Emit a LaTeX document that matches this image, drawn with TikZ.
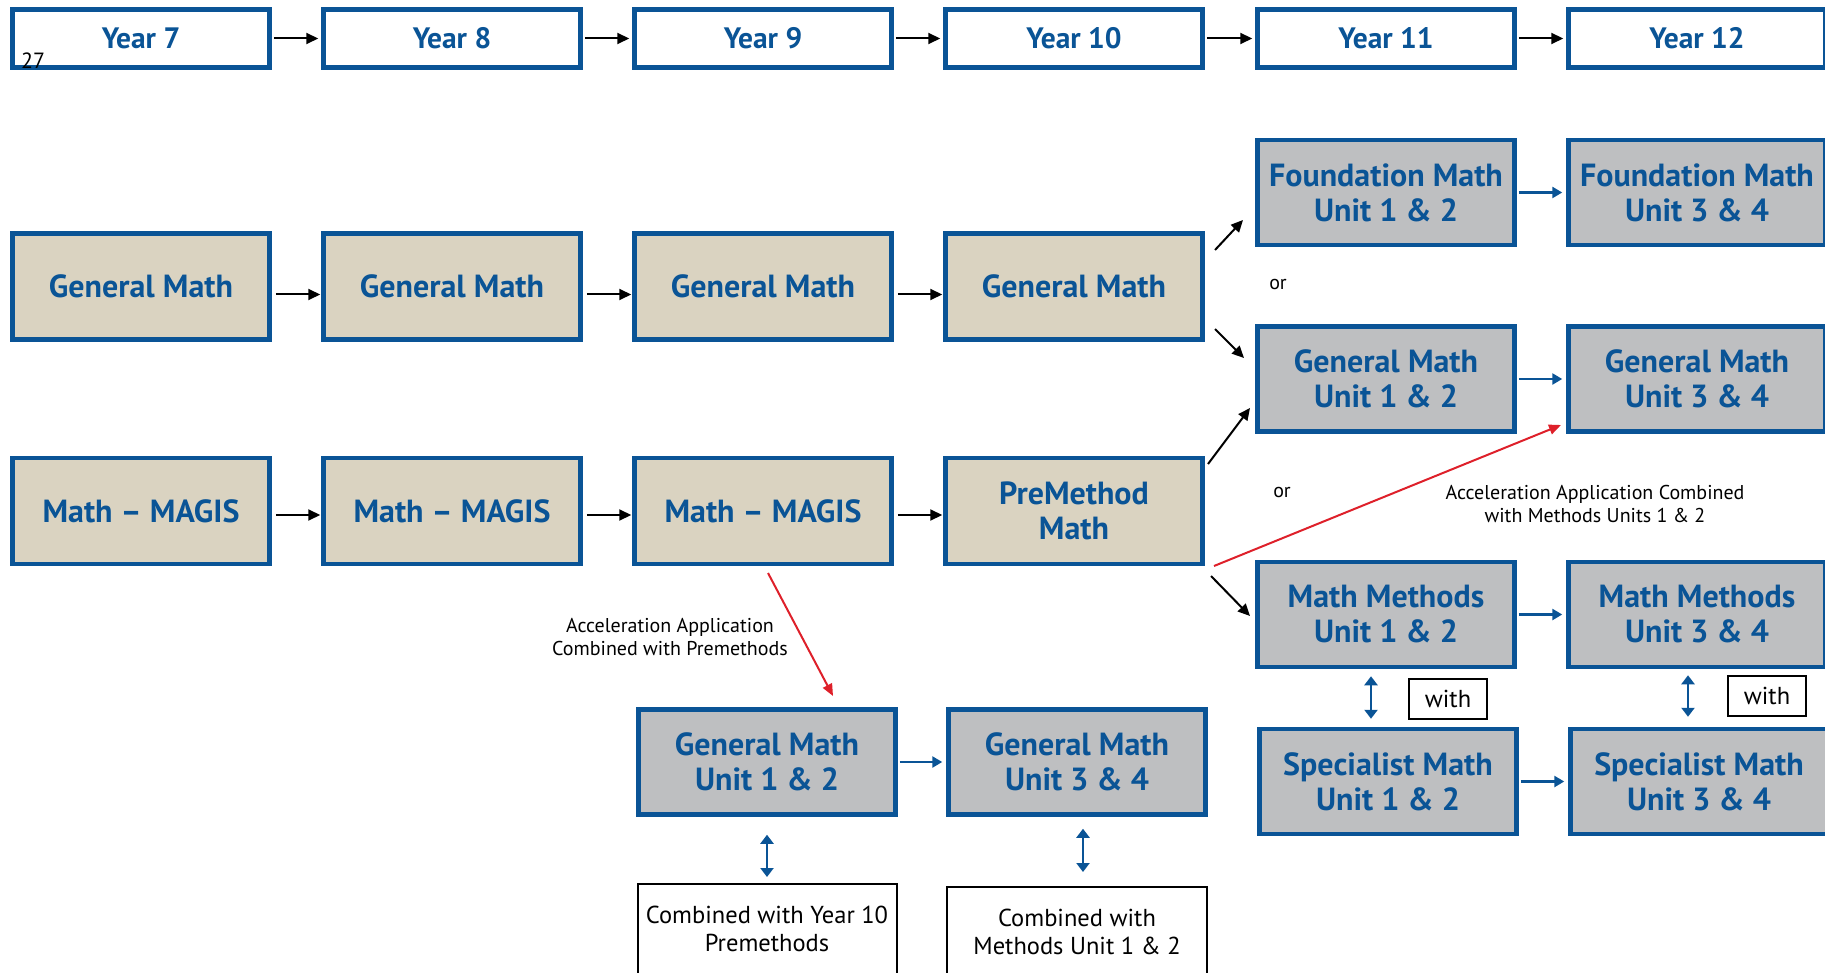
\documentclass[tikz,border=0pt]{standalone}
\usepackage{fontspec}
\setmainfont{PT Sans}
\usetikzlibrary{arrows.meta,calc}
\definecolor{bblue}{RGB}{10,84,150}
\definecolor{boxtan}{RGB}{218,211,193}
\definecolor{boxgray}{RGB}{190,191,193}
\definecolor{ared}{RGB}{222,32,42}
\begin{document}
\begin{tikzpicture}[x=1pt,y=-1pt]
\useasboundingbox (0,0) rectangle (1825,973);
\tikzset{
 base/.style={rectangle, draw=bblue, line width=4.5pt, inner sep=0pt, minimum width=257pt, text=bblue, font=\bfseries\fontsize{32}{35}\selectfont, align=center},
 yearbox/.style={base, fill=white, minimum height=58pt, font=\bfseries\fontsize{29.5}{35}\selectfont},
 tanbox/.style={base, fill=boxtan, minimum height=106pt},
 graybox/.style={base, fill=boxgray, minimum height=105pt},
 wbox/.style={rectangle, draw=black, line width=2pt, fill=white, inner sep=0pt, font=\fontsize{24.5}{28}\selectfont, align=center},
 lbl/.style={font=\fontsize{20}{23}\selectfont, align=center, inner sep=0pt},
 blk/.style={line width=2pt, -{Triangle[length=12pt,width=11pt]}},
 blu/.style={draw=bblue, line width=2.5pt, -{Triangle[length=10pt,width=11pt]}},
 dbl/.style={draw=bblue, line width=2.5pt, {Triangle[length=9pt,width=13pt]}-{Triangle[length=9pt,width=13pt]}},
 redar/.style={draw=ared, line width=2pt, -{Triangle[length=12pt,width=10pt]}},
}
% year row
\node[yearbox] (y7) at (141,38.5) {Year 7};
\node[yearbox] (y8) at (452,38.5) {Year 8};
\node[yearbox] (y9) at (763,38.5) {Year 9};
\node[yearbox] (y10) at (1074,38.5) {Year 10};
\node[yearbox] (y11) at (1386,38.5) {Year 11};
\node[yearbox] (y12) at (1697,38.5) {Year 12};
\node[anchor=base west, inner sep=0pt, font=\fontsize{22}{22}\selectfont] (pg) at (21,69) {27};
% general math row
\node[tanbox] (gm7) at (141,286.5) {General Math};
\node[tanbox] (gm8) at (452,286.5) {General Math};
\node[tanbox] (gm9) at (763,286.5) {General Math};
\node[tanbox] (gm10) at (1074,286.5) {General Math};
% magis row
\node[tanbox] (mg7) at (141,511) {Math -- MAGIS};
\node[tanbox] (mg8) at (452,511) {Math -- MAGIS};
\node[tanbox] (mg9) at (763,511) {Math -- MAGIS};
\node[tanbox] (pm10) at (1074,511) {PreMethod\\Math};
% year 11/12
\node[graybox] (fm11) at (1386,192.5) {Foundation Math\\Unit 1 \& 2};
\node[graybox] (fm12) at (1697,192.5) {Foundation Math\\Unit 3 \& 4};
\node[graybox] (gu11) at (1386,379) {General Math\\Unit 1 \& 2};
\node[graybox] (gu12) at (1697,379) {General Math\\Unit 3 \& 4};
\node[graybox] (mm11) at (1386,614.5) {Math Methods\\Unit 1 \& 2};
\node[graybox] (mm12) at (1697,614.5) {Math Methods\\Unit 3 \& 4};
\node[graybox] (sm11) at (1388,781.5) {Specialist Math\\Unit 1 \& 2};
\node[graybox] (sm12) at (1699,781.5) {Specialist Math\\Unit 3 \& 4};
% accelerated bottom
\node[graybox] (gb9) at (767,762) {General Math\\Unit 1 \& 2};
\node[graybox] (gb10) at (1077,762) {General Math\\Unit 3 \& 4};
\node[wbox, minimum width=259pt, minimum height=90pt] (wb9) at (767,929) {Combined with Year 10\\Premethods};
\node[wbox, minimum width=260pt, minimum height=90pt] (wb10) at (1077,932) {Combined with\\Methods Unit 1 \& 2};
\node[wbox, minimum width=78pt, minimum height=40pt] (w11) at (1448,699) {with};
\node[wbox, minimum width=78pt, minimum height=40pt] (w12) at (1767,695.5) {with};
% labels
\node[lbl] (or1) at (1278,285) {or};
\node[lbl] (or2) at (1282,492) {or};
\node[lbl] (acc1) at (670,637) {Acceleration Application\\Combined with Premethods};
\node[lbl] (acc2) at (1595,504) {Acceleration Application Combined\\with Methods Units 1 \& 2};
% year arrows
\foreach \a/\b in {y7/y8,y8/y9,y9/y10,y10/y11,y11/y12}
  \draw[blk, shorten <=2pt, shorten >=3pt] (\a) -- (\b);
\foreach \a/\b in {gm7/gm8,gm8/gm9,gm9/gm10}
  \draw[blk, shorten <=4pt, shorten >=1pt] ([yshift=-8pt]\a.east) -- ([yshift=-8pt]\b.west);
\foreach \a/\b in {mg7/mg8,mg8/mg9,mg9/pm10}
  \draw[blk, shorten <=4pt, shorten >=1pt] ([yshift=-4pt]\a.east) -- ([yshift=-4pt]\b.west);
% diagonal arrows
\coordinate (d1s) at (1215,250); \coordinate (d1e) at (1243,220);
\coordinate (d2s) at (1215,329); \coordinate (d2e) at (1244,358);
\coordinate (d3s) at (1208,464); \coordinate (d3e) at (1250,408);
\coordinate (d4s) at (1211,576); \coordinate (d4e) at (1250,616);
\draw[blk] (d1s) -- (d1e);
\draw[blk] (d2s) -- (d2e);
\draw[blk] (d3s) -- (d3e);
\draw[blk] (d4s) -- (d4e);
% red arrows
\coordinate (r1s) at (768,573); \coordinate (r1e) at (833,696);
\coordinate (r2s) at (1214,566); \coordinate (r2e) at (1561,425);
\draw[redar] (r1s) -- (r1e);
\draw[redar] (r2s) -- (r2e);
% blue arrows
\foreach \a/\b in {fm11/fm12,gu11/gu12,mm11/mm12,sm11/sm12,gb9/gb10}
  \draw[blu, shorten <=2pt, shorten >=4pt] (\a) -- (\b);
% double arrows
\draw[dbl, shorten <=18pt, shorten >=6pt] (gb9.south) -- (wb9.north);
\draw[dbl, shorten <=12pt, shorten >=14pt] ([xshift=6pt]gb10.south) -- ([xshift=6pt]wb10.north);
\draw[dbl, shorten <=7pt, shorten >=8pt] ([xshift=-15pt]mm11.south) -- ([xshift=-17pt]sm11.north);
\draw[dbl, shorten <=6pt, shorten >=10pt] ([xshift=-9pt]mm12.south) -- ([xshift=-11pt]sm12.north);
\end{tikzpicture}
\end{document}
